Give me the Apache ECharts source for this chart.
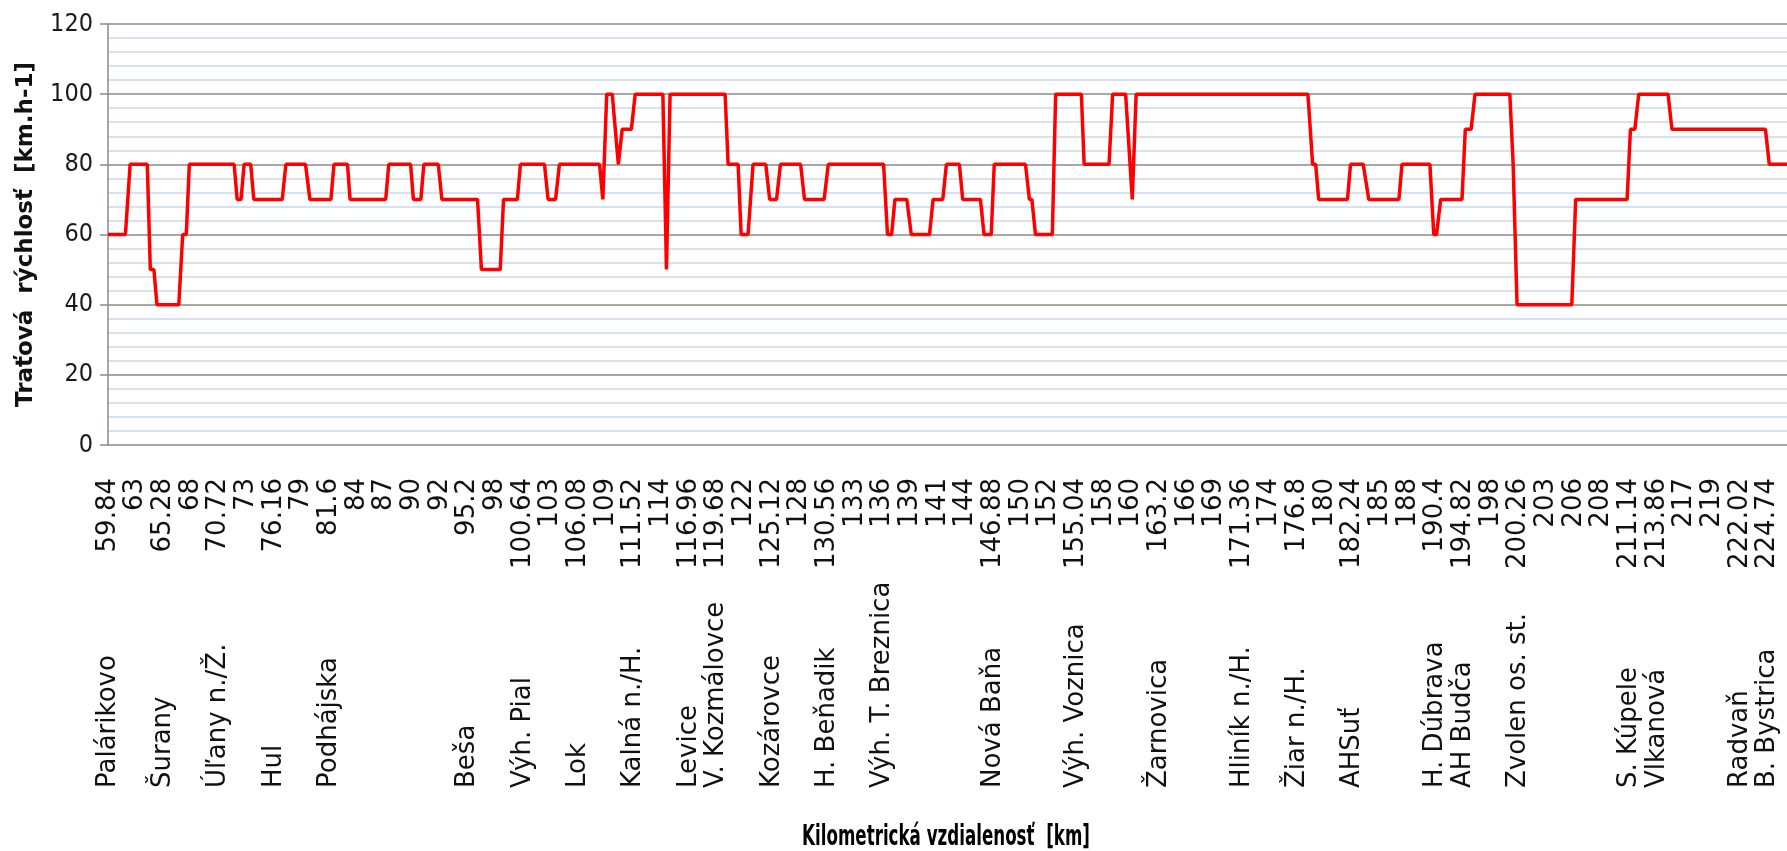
<!DOCTYPE html>
<html>
<head>
<meta charset="utf-8">
<script src="https://cdn.jsdelivr.net/npm/echarts@6/dist/echarts.min.js"></script>
<style>
html, body { margin: 0; padding: 0; background: #fff; }
#speed { width: 1787px; height: 851px; }
</style>
</head>
<body>
<div id="speed"></div>
<script>
// km labels shown on the axis (one per labelled position)
var kmLabels = ['59.84', '63', '65.28', '68', '70.72', '73', '76.16', '79', '81.6', '84',
  '87', '90', '92', '95.2', '98', '100.64', '103', '106.08', '109', '111.52',
  '114', '116.96', '119.68', '122', '125.12', '128', '130.56', '133', '136', '139',
  '141', '144', '146.88', '150', '152', '155.04', '158', '160', '163.2', '166',
  '169', '171.36', '174', '176.8', '180', '182.24', '185', '188', '190.4', '194.82',
  '198', '200.26', '203', '206', '208', '211.14', '213.86', '217', '219', '222.02',
  '224.74']

// station names, aligned with kmLabels
var stations = ['Palárikovo', '', 'Šurany', '', 'Úľany n./Ž.', '', 'Hul', '', 'Podhájska', '',
  '', '', '', 'Beša', '', 'Výh. Pial', '', 'Lok', '', 'Kalná n./H.',
  '', 'Levice', 'V. Kozmálovce', '', 'Kozárovce', '', 'H. Beňadik', '', 'Výh. T. Breznica', '',
  '', '', 'Nová Baňa', '', '', 'Výh. Voznica', '', '', 'Žarnovica', '',
  '', 'Hliník n./H.', '', 'Žiar n./H.', '', 'AHSuť', '', '', 'H. Dúbrava', 'AH Budča',
  '', 'Zvolen os. st.', '', '', '', 'S. Kúpele', 'Vlkanová', '', '', 'Radvaň',
  'B. Bystrica']

// breakpoints of the speed profile: position (in label steps) and speed [km/h]
var pos = [0, 0.63, 0.80, 1.42, 1.53, 1.66, 1.77, 2.56, 2.70, 2.83,
  2.94, 4.56, 4.67, 4.81, 4.92, 5.16, 5.27, 6.30, 6.43, 7.14,
  7.30, 8.06, 8.17, 8.66, 8.75, 10.04, 10.15, 10.94, 11.04, 11.31,
  11.42, 11.94, 12.07, 13.36, 13.50, 14.18, 14.30, 14.80, 14.91, 15.78,
  15.91, 16.18, 16.32, 17.77, 17.89, 18.03, 18.23, 18.45, 18.59, 18.92,
  19.06, 20.06, 20.19, 20.32, 22.31, 22.42, 22.78, 22.89, 23.14, 23.32,
  23.78, 23.92, 24.17, 24.31, 25.04, 25.18, 25.89, 26.04, 28.04, 28.18,
  28.33, 28.45, 28.88, 29.04, 29.70, 29.83, 30.18, 30.31, 30.78, 30.90,
  31.54, 31.67, 31.93, 32.04, 33.17, 33.31, 33.40, 33.53, 34.14, 34.26,
  35.19, 35.29, 36.19, 36.32, 36.79, 37.03, 37.17, 43.38, 43.55, 43.66,
  43.77, 44.81, 44.92, 45.38, 45.58, 46.67, 46.78, 47.79, 47.93, 48.03,
  48.18, 48.95, 49.07, 49.28, 49.42, 50.68, 50.80, 50.94, 52.92, 53.06,
  54.92, 55.04, 55.20, 55.34, 56.40, 56.54, 59.92, 60.06, 60.7]
var speed = [60, 60, 80, 80, 50, 50, 40, 40, 60, 60,
  80, 80, 70, 70, 80, 80, 70, 70, 80, 80,
  70, 70, 80, 80, 70, 70, 80, 80, 70, 70,
  80, 80, 70, 70, 50, 50, 70, 70, 80, 80,
  70, 70, 80, 80, 70, 100, 100, 80, 90, 90,
  100, 100, 50, 100, 100, 80, 80, 60, 60, 80,
  80, 70, 70, 80, 80, 70, 70, 80, 80, 60,
  60, 70, 70, 60, 60, 70, 70, 80, 80, 70,
  70, 60, 60, 80, 80, 70, 70, 60, 60, 100,
  100, 80, 80, 100, 100, 70, 100, 100, 80, 80,
  70, 70, 80, 80, 70, 70, 80, 80, 60, 60,
  70, 70, 90, 90, 100, 100, 80, 40, 40, 70,
  70, 90, 90, 100, 100, 90, 90, 80, 80]

var labelIdx = kmLabels.map(function (k, i) { return i })
var labelFont = { fontFamily: 'DejaVu Sans', fontSize: 26, color: '#111' }

// same scale as the plot, used only for a row of labels
// labels start at the bottom of the row (align left after rotation)
function labelAxis(offset, extra) {
  var axis = {
    type: 'value',
    position: 'bottom',
    offset: offset,
    min: 0,
    max: 60.7,
    axisLine: { show: false, onZero: false },
    axisTick: { show: false },
    splitLine: { show: false },
    axisLabel: {
      customValues: labelIdx,
      rotate: 90,
      align: 'left',
      verticalAlign: 'middle',
      margin: 0,
      fontFamily: labelFont.fontFamily,
      fontSize: labelFont.fontSize,
      color: labelFont.color
    }
  }
  Object.assign(axis.axisLabel, extra)
  return axis
}

var chart = echarts.init(document.getElementById('speed'))
chart.setOption({
  animation: false,
  grid: { left: 108, right: 0, top: 24, bottom: 406 },
  xAxis: [
    {
      type: 'value',
      position: 'bottom',
      min: 0,
      max: 60.7,
      axisLine: { show: false },
      axisTick: { show: false },
      splitLine: { show: false },
      axisLabel: { show: false }
    },
    // km row: a fixed 100px box, text pushed to its top end
    labelAxis(133, {
      width: 100,
      formatter: function (v) { return '{k|' + kmLabels[Math.round(v)] + '}' },
      rich: { k: { align: 'right', fontFamily: 'DejaVu Sans', fontSize: 26, color: '#111' } }
    }),
    // station row, bottom aligned
    labelAxis(343, {
      formatter: function (v) { return stations[Math.round(v)] }
    })
  ],
  yAxis: {
    type: 'value',
    min: 0,
    max: 120,
    interval: 20,
    axisLine: { show: true, lineStyle: { color: '#8a8a8a', width: 1.5 } },
    axisTick: { show: true, length: 8, lineStyle: { color: '#8a8a8a', width: 1.5 } },
    axisLabel: {
      margin: 15,
      fontFamily: 'DejaVu Sans Condensed',
      fontSize: 25,
      color: '#1a1a1a'
    },
    splitLine: { show: true, lineStyle: { color: '#8a8a8a', width: 1.5 } },
    minorTick: { show: false, splitNumber: 5 },
    minorSplitLine: { show: true, lineStyle: { color: '#cad8ea', width: 1.5 } },
    name: 'Traťová  rýchlosť  [km.h-1]',
    nameLocation: 'middle',
    nameRotate: 90,
    nameGap: 70,
    nameTextStyle: {
      fontFamily: 'DejaVu Sans',
      fontWeight: 'bold',
      fontSize: 23,
      color: '#111'
    }
  },
  // x axis title, drawn narrow like the original condensed font
  graphic: [
    {
      type: 'text',
      x: 946,
      y: 837,
      scaleX: 0.64,
      style: {
        text: 'Kilometrická vzdialenosť  [km]',
        font: 'bold 29px "DejaVu Sans Condensed"',
        fill: '#000',
        align: 'center',
        verticalAlign: 'middle'
      }
    }
  ],
  series: [
    {
      name: 'Traťová rýchlosť',
      type: 'line',
      xAxisIndex: 0,
      showSymbol: false,
      lineStyle: { color: '#ff0000', width: 3.5 },
      data: pos.map(function (x, i) { return [x, speed[i]] })
    }
  ]
})
</script>
</body>
</html>
